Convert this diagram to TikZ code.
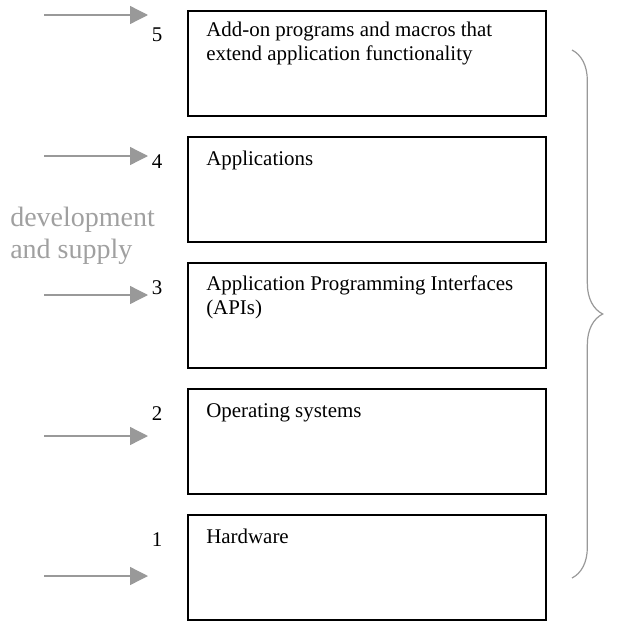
\documentclass[tikz,border=0pt]{standalone}
\usepackage{fontspec}
\setmainfont{Liberation Serif}
\usepackage{tikz}
\usetikzlibrary{positioning,arrows.meta,decorations.pathreplacing}
\definecolor{myGray}{RGB}{153,153,153}
\definecolor{myTextGray}{RGB}{160,160,160}

\begin{document}
\begin{tikzpicture}[x=0.75pt,y=-0.75pt,
        every node/.style={
            font=\fontsize{15.7}{17.5}\selectfont,
        },
        layer/.style={draw,line width=1.2pt,minimum width=268.5pt,
            minimum height=78.75pt,inner sep=0pt,outer sep=0pt},
        layertext/.style={anchor=base west,align=left,inner sep=0pt},
        layernum/.style={anchor=base,inner sep=0pt},
        feed/.style={myGray,line width=1pt,-{Triangle[length=13.5pt,width=13.5pt]}},
        node distance=15.75pt,
    ]
    \useasboundingbox (0,0) rectangle (618,621);

    % the five layers, top to bottom
    \node[layer] (l5) at (367,63.5) {};
    \node[layer,below=of l5] (l4) {};
    \node[layer,below=of l4] (l3) {};
    \node[layer,below=of l3] (l2) {};
    \node[layer,below=of l2] (l1) {};

    % text inside the layers (base = last line)
    \node[layertext] (t5) at ([shift={(18,49)}]l5.north west)
        {Add-on programs and macros that\\extend application functionality};
    \node[layertext] (t4) at ([shift={(18,28)}]l4.north west) {Applications};
    \node[layertext] (t3) at ([shift={(18,51)}]l3.north west)
        {Application Programming Interfaces\\(APIs)};
    \node[layertext] (t2) at ([shift={(18,28)}]l2.north west) {Operating systems};
    \node[layertext] (t1) at ([shift={(18,28)}]l1.north west) {Hardware};

    % layer numbers
    \node[layernum] (n5) at ([shift={(-31,30.5)}]l5.north west) {5};
    \node[layernum] (n4) at ([shift={(-31,31)}]l4.north west) {4};
    \node[layernum] (n3) at ([shift={(-31,31.5)}]l3.north west) {3};
    \node[layernum] (n2) at ([shift={(-31,31)}]l2.north west) {2};
    \node[layernum] (n1) at ([shift={(-31,31.5)}]l1.north west) {1};

    % incoming arrows
    \foreach \n/\y in {5/15,4/156,3/295,2/436,1/576}{
        \coordinate (from\n) at (44,\y);
        \coordinate (to\n) at (148,\y);
        \draw[feed] (from\n) -- (to\n);
    }

    % side label
    \node[anchor=base west,align=left,inner sep=0pt,myTextGray,
        font=\fontsize{21}{24}\selectfont] (dev) at (10,258)
        {development\\and supply};

    % curly brace on the right
    \coordinate (bracetop) at (572,50);
    \coordinate (bracebot) at (572,578);
    \draw[myGray,line width=0.9pt,decorate,decoration={brace,amplitude=23pt}]
        (bracetop) -- (bracebot);
\end{tikzpicture}
\end{document}
